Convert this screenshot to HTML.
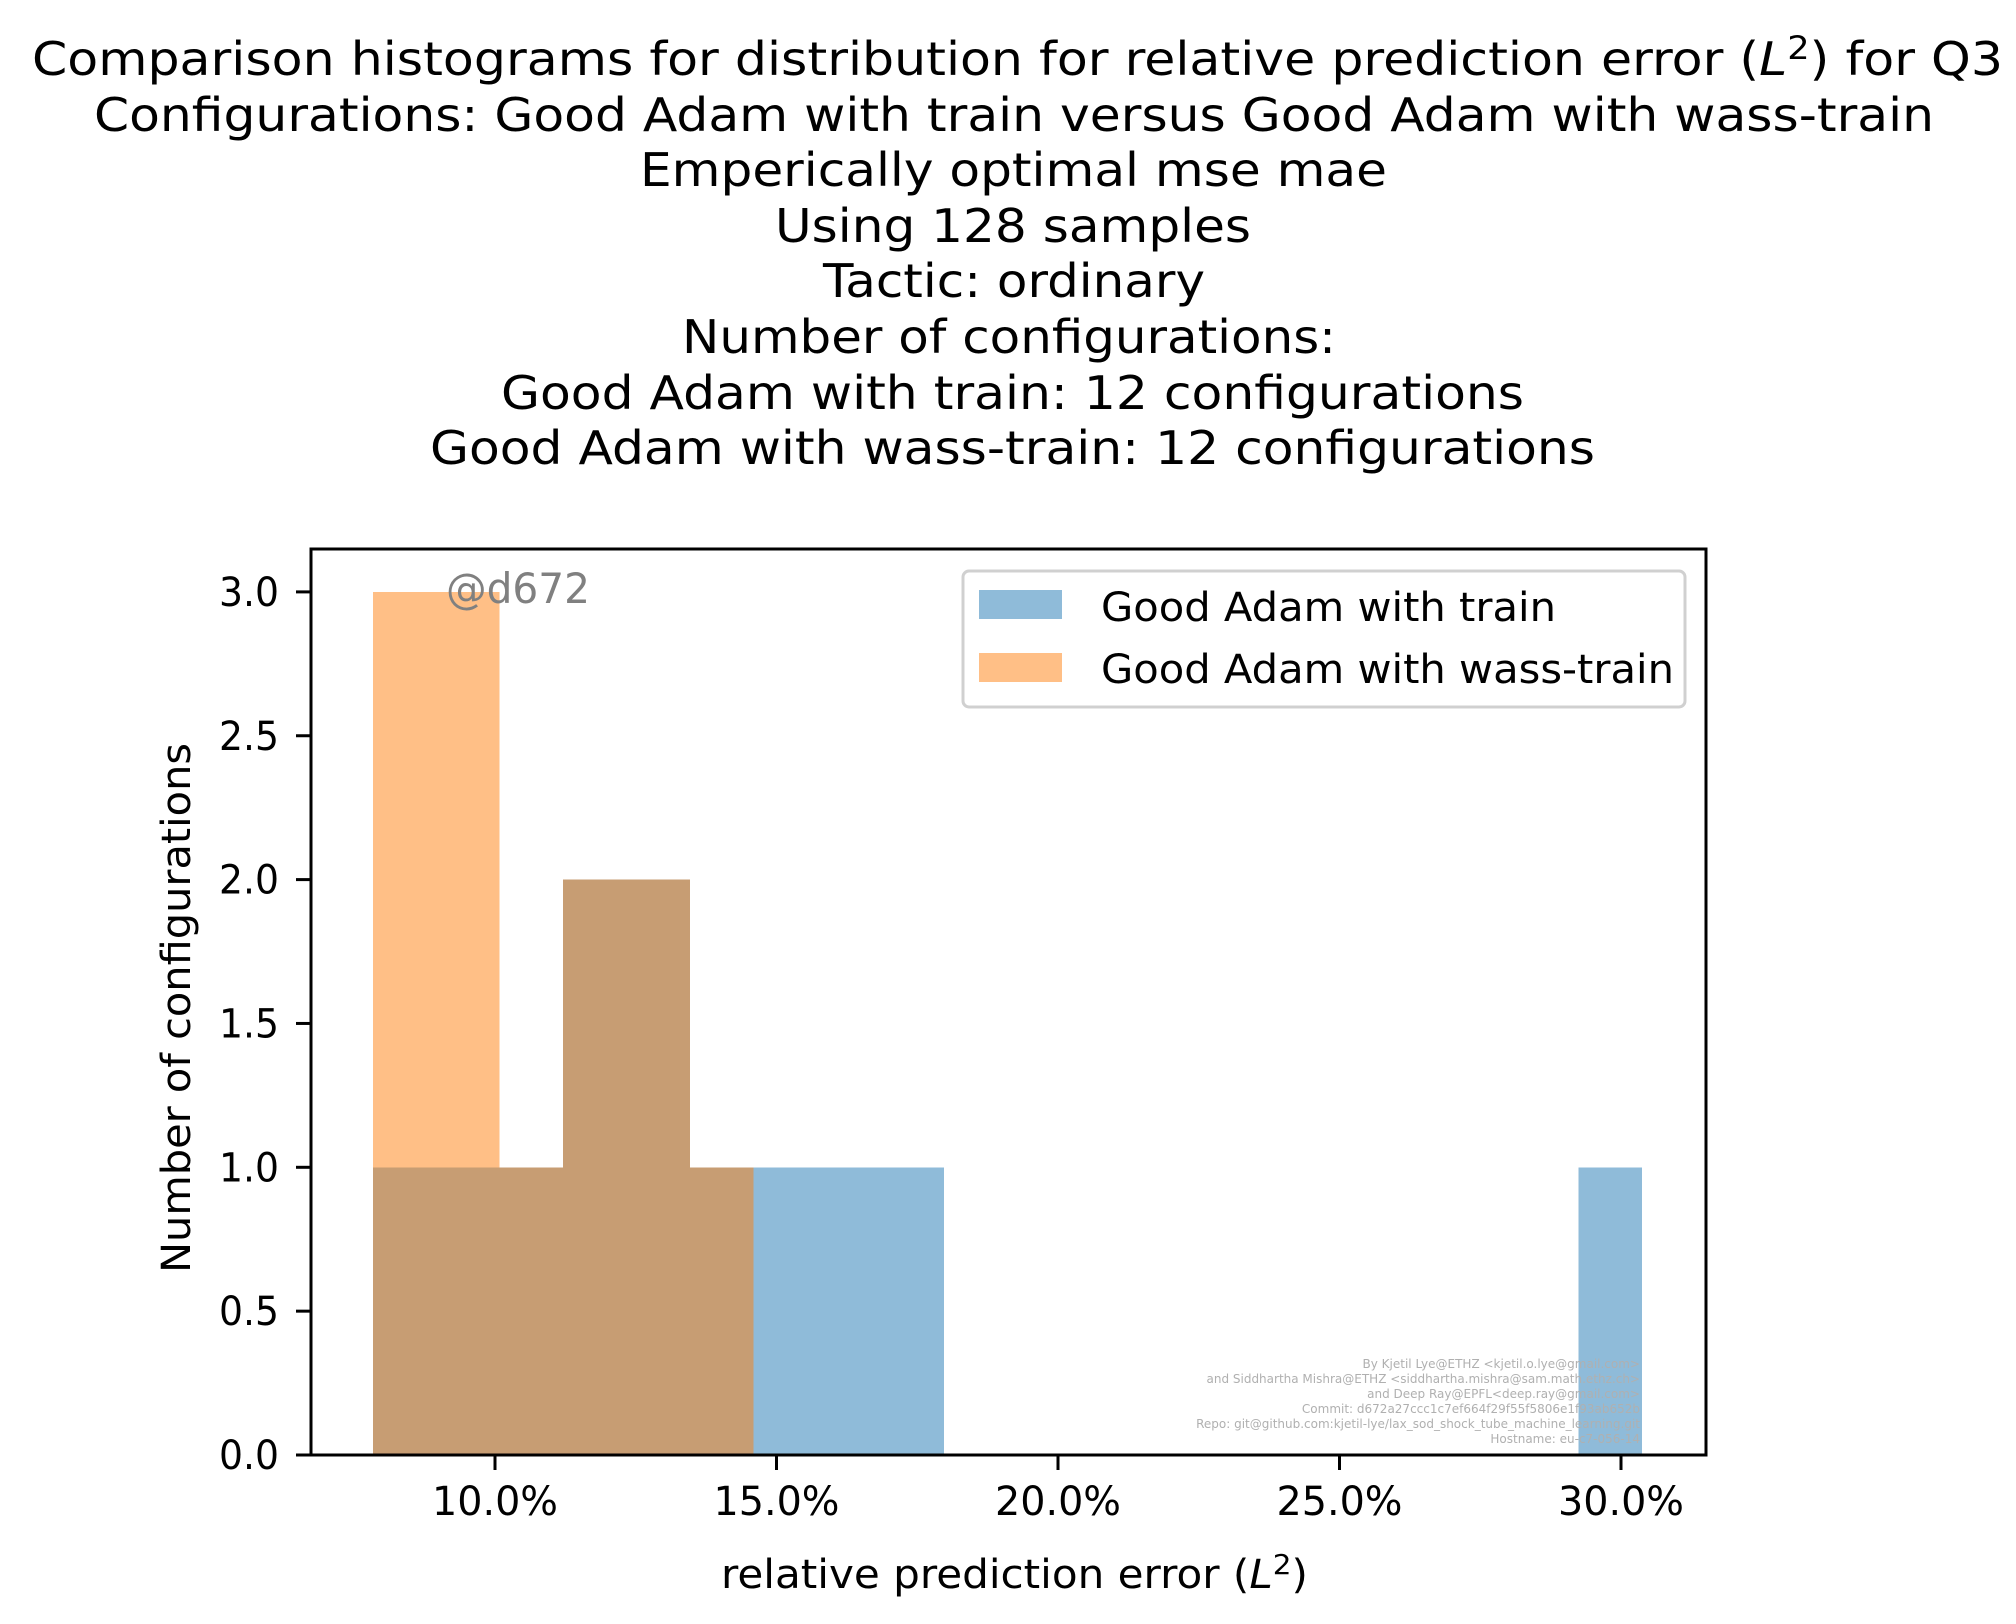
<!DOCTYPE html>
<html><head><meta charset="utf-8"><style>
html,body{margin:0;padding:0;background:#fff;}
svg{display:block;font-family:"DejaVu Sans","Liberation Sans",sans-serif;}
</style></head><body>
<svg id="chart" width="2016" height="1624" viewBox="0 0 2016 1624">
<g font-size="46" text-anchor="start" fill="#000">
<text x="32" y="75" textLength="1971" lengthAdjust="spacingAndGlyphs">Comparison histograms for distribution for relative prediction error (<tspan font-style="italic">L</tspan><tspan dy="-16" font-size="32">2</tspan><tspan dy="16">) for Q3</tspan></text>
<text x="94" y="131" textLength="1840" lengthAdjust="spacingAndGlyphs">Configurations: Good Adam with train versus Good Adam with wass-train</text>
<text x="640" y="186" textLength="747" lengthAdjust="spacingAndGlyphs">Emperically optimal mse mae</text>
<text x="775" y="242" textLength="476" lengthAdjust="spacingAndGlyphs">Using 128 samples</text>
<text x="823" y="297" textLength="382" lengthAdjust="spacingAndGlyphs">Tactic: ordinary</text>
<text x="682" y="353" textLength="654" lengthAdjust="spacingAndGlyphs">Number of configurations:</text>
<text x="501" y="409" textLength="1023" lengthAdjust="spacingAndGlyphs">Good Adam with train: 12 configurations</text>
<text x="430" y="464" textLength="1165" lengthAdjust="spacingAndGlyphs">Good Adam with wass-train: 12 configurations</text>
</g>
<g id="bars" shape-rendering="crispEdges"></g>
<g id="axes"></g>
<text x="446" y="603" font-size="42" fill="#808080" textLength="144" lengthAdjust="spacingAndGlyphs">@d672</text>
<g font-size="12" fill="#b0b0b0" text-anchor="end">
<text x="1640" y="1368">By Kjetil Lye@ETHZ &lt;kjetil.o.lye@gmail.com&gt;</text>
<text x="1640" y="1383">and Siddhartha Mishra@ETHZ &lt;siddhartha.mishra@sam.math.ethz.ch&gt;</text>
<text x="1640" y="1398">and Deep Ray@EPFL&lt;deep.ray@gmail.com&gt;</text>
<text x="1640" y="1413">Commit: d672a27ccc1c7ef664f29f55f5806e1f93ab652b</text>
<text x="1640" y="1428">Repo: git@github.com:kjetil-lye/lax_sod_shock_tube_machine_learning.git</text>
<text x="1640" y="1443">Hostname: eu-c7-056-14</text>
</g>
<g>
<rect x="963" y="571" width="722" height="136" rx="6" fill="#fff" stroke="#d0d0d0" stroke-width="3"/>
<rect x="979" y="590" width="83" height="29" fill="#1f77b4" fill-opacity="0.5"/>
<text x="1101" y="621" font-size="40" textLength="455" lengthAdjust="spacingAndGlyphs">Good Adam with train</text>
<rect x="979" y="653" width="83" height="29" fill="#ff7f0e" fill-opacity="0.5"/>
<text x="1101" y="683" font-size="40" textLength="573" lengthAdjust="spacingAndGlyphs">Good Adam with wass-train</text>
</g>
<text x="721" y="1588" font-size="40" textLength="587" lengthAdjust="spacingAndGlyphs">relative prediction error (<tspan font-style="italic">L</tspan><tspan dy="-14" font-size="28">2</tspan><tspan dy="14">)</tspan></text>
<text transform="translate(190,1008) rotate(-90)" text-anchor="middle" font-size="40" textLength="530" lengthAdjust="spacingAndGlyphs">Number of configurations</text>
</svg>
<script>
const binStart = 7.83;
const binWidth = 1.127;
const trainCounts = [1,1,1,2,2,1,1,1,1,0,0,0,0,0,0,0,0,0,0,1];
const wassCounts = [3,3,1,2,2,1];
const xTicks = [10,15,20,25,30];
const xTickLabels = ["10.0%","15.0%","20.0%","25.0%","30.0%"];
const yTicks = [0,0.5,1,1.5,2,2.5,3];
const yTickLabels = ["0.0","0.5","1.0","1.5","2.0","2.5","3.0"];

const NS = "http://www.w3.org/2000/svg";
const L = 311, R = 1706, T = 549, B = 1455;
function xs(v){ return 495 + (v - 10) * 56.3; }
function ys(v){ return 1455 - v * 287.7; }
function mk(tag, attrs, parent){ const e = document.createElementNS(NS, tag); for (const k in attrs) e.setAttribute(k, attrs[k]); parent.appendChild(e); return e; }

const bars = document.getElementById('bars');
trainCounts.forEach((c, i) => {
  if (!c) return;
  const x0 = xs(binStart + i * binWidth), x1 = xs(binStart + (i + 1) * binWidth);
  const r = mk('rect', {x: x0, y: ys(c), width: x1 - x0, height: ys(0) - ys(c), fill: '#1f77b4', 'fill-opacity': 0.5}, bars);
  
  
});
wassCounts.forEach((c, i) => {
  if (!c) return;
  const x0 = xs(binStart + i * binWidth), x1 = xs(binStart + (i + 1) * binWidth);
  const r = mk('rect', {x: x0, y: ys(c), width: x1 - x0, height: ys(0) - ys(c), fill: '#ff7f0e', 'fill-opacity': 0.5}, bars);
  
  
});

const axes = document.getElementById('axes');
const frame = mk('rect', {x: L, y: T, width: R - L, height: B - T, fill: 'none', stroke: '#000', 'stroke-width': 3}, axes);


xTicks.forEach((v, i) => {
  const x = xs(v);
  const t = mk('line', {x1: x, x2: x, y1: B, y2: B + 15, stroke: '#000', 'stroke-width': 3}, axes);
  
  
  const lb = mk('text', {x: x, y: 1515, 'font-size': 40, 'text-anchor': 'middle', textLength: 126, lengthAdjust: 'spacingAndGlyphs'}, axes);
  lb.textContent = xTickLabels[i];
  
  
});
yTicks.forEach((v, i) => {
  const y = ys(v);
  const t = mk('line', {x1: L - 15, x2: L, y1: y, y2: y, stroke: '#000', 'stroke-width': 3}, axes);
  
  
  const lb = mk('text', {x: 279, y: y + 14, 'font-size': 40, 'text-anchor': 'end', textLength: 60, lengthAdjust: 'spacingAndGlyphs'}, axes);
  lb.textContent = yTickLabels[i];
  
  
});
</script>
</body></html>
